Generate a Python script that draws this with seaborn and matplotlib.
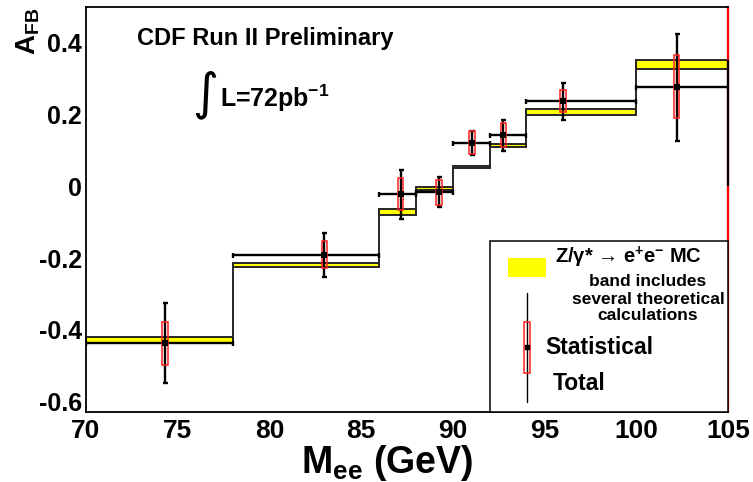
import numpy as np
import pandas as pd
import matplotlib
matplotlib.use("Agg")
import matplotlib.pyplot as plt
from matplotlib.patches import Rectangle
import seaborn as sns

# ---- data ----
edges = [70, 78, 86, 88, 90, 92, 94, 100, 105]
mee = [74.3, 83.0, 87.15, 89.25, 91.05, 92.75, 96.0, 102.2]
afb = [-0.437, -0.191, -0.022, -0.016, 0.122, 0.144, 0.238, 0.277]
tot_hi = [-0.325, -0.130, 0.047, 0.027, 0.155, 0.186, 0.288, 0.426]
tot_lo = [-0.549, -0.253, -0.090, -0.058, 0.088, 0.099, 0.186, 0.127]
stat_hi = [-0.377, -0.153, 0.023, 0.018, 0.153, 0.176, 0.268, 0.365]
stat_lo = [-0.497, -0.228, -0.067, -0.053, 0.090, 0.111, 0.206, 0.191]
mc_hi = [-0.421, -0.213, -0.064, -0.001, 0.058, 0.117, 0.216, 0.351]
mc_lo = [-0.437, -0.226, -0.080, -0.010, 0.050, 0.110, 0.199, 0.327]
xticks = [70, 75, 80, 85, 90, 95, 100, 105]
yticks = [-0.6, -0.4, -0.2, 0, 0.2, 0.4]
ytick_labels = ["-0.6", "-0.4", "-0.2", "0", "0.2", "0.4"]

sns.set_theme(style="white")
plt.rcParams["font.family"] = ["Liberation Sans", "DejaVu Sans"]
plt.rcParams["font.weight"] = "bold"
plt.rcParams["text.color"] = "black"
plt.rcParams["axes.labelcolor"] = "black"
plt.rcParams["xtick.color"] = "black"
plt.rcParams["ytick.color"] = "black"
plt.rcParams["mathtext.fontset"] = "custom"
plt.rcParams["mathtext.rm"] = "Liberation Sans:bold"
plt.rcParams["mathtext.it"] = "Liberation Sans:bold"
plt.rcParams["mathtext.bf"] = "Liberation Sans:bold"

W, H = 753, 482
fig = plt.figure(figsize=(W / 100, H / 100), dpi=100)
fig.patch.set_facecolor("white")
L, R, T, B = 86, 728, 7, 411.7
ax = fig.add_axes([L / W, 1 - B / H, (R - L) / W, (B - T) / H])
ax.set_facecolor("white")

df = pd.DataFrame({"mee": mee, "afb": afb})
e = np.array(edges, float)
mee_a = np.array(mee)
afb_a = np.array(afb)

# MC band
ax.bar(e[:-1], np.array(mc_hi) - np.array(mc_lo), width=np.diff(e), bottom=mc_lo,
       align="edge", color="#ffff00", edgecolor="#262626", linewidth=1.4, zorder=2)
# step connectors
for i in range(1, len(e) - 1):
    lo = min(mc_lo[i - 1], mc_lo[i])
    hi = max(mc_hi[i - 1], mc_hi[i])
    ax.vlines(e[i], lo, hi, color="#262626", linewidth=1.4, zorder=2)
ax.vlines(e[-1], 0, mc_hi[-1], color="black", linewidth=1.6, zorder=6, clip_on=False)

# data with total errors
ax.errorbar(mee_a, afb_a,
            xerr=[mee_a - e[:-1], e[1:] - mee_a],
            yerr=[afb_a - np.array(tot_lo), np.array(tot_hi) - afb_a],
            fmt="none", ecolor="black", elinewidth=1.7, capsize=1.8, capthick=1.7, zorder=3)
# statistical boxes
ax.bar(mee_a, np.array(stat_hi) - np.array(stat_lo), width=0.3, bottom=stat_lo,
       align="center", fill=False, edgecolor="#ff2020", linewidth=1.1, zorder=4)
sns.scatterplot(data=df, x="mee", y="afb", marker="s", s=16, color="black",
                edgecolor="black", linewidth=0, ax=ax, zorder=5, legend=False)

ax.set_xlim(70, 105)
ax.set_ylim(-0.628, 0.5)
ax.set_xticks(xticks)
ax.set_xticklabels([str(v) for v in xticks], fontsize=19, fontweight="bold")
ax.set_yticks(yticks)
ax.set_yticklabels(ytick_labels, fontsize=18, fontweight="bold")
ax.set_xticks(np.arange(70, 106, 1), minor=True)
ax.set_yticks(np.arange(-0.6, 0.5, 0.05), minor=True)
ax.tick_params(axis="x", which="major", direction="in", length=9, width=1, pad=5.5, colors="black")
ax.tick_params(axis="x", which="minor", direction="in", length=4.3, width=1, colors="black")
ax.tick_params(axis="y", which="major", direction="in", length=13, width=1, pad=3, colors="black")
ax.tick_params(axis="y", which="minor", direction="in", length=6.5, width=1, colors="black")
ax.set_xlabel("")
ax.set_ylabel("")
for s in ["left", "bottom", "top"]:
    ax.spines[s].set_color("black")
    ax.spines[s].set_linewidth(1.3)
ax.spines["right"].set_color("red")
ax.spines["right"].set_linewidth(1.6)

def axf(px, py):
    return ((px - L) / (R - L), (B - py) / (B - T))

# legend box
x0, y0 = axf(490, 411.7)
x1, y1 = axf(728, 241)
ax.add_patch(Rectangle((x0, y0), x1 - x0, y1 - y0, transform=ax.transAxes,
                       facecolor="white", edgecolor="black", linewidth=1.1, zorder=10, clip_on=False))
a, b = axf(507.7, 276.7)
c, d = axf(545.7, 257.7)
ax.add_patch(Rectangle((a, b), c - a, d - b, transform=ax.transAxes,
                       facecolor="#ffff00", edgecolor="none", zorder=11))
ax.text(*axf(555, 257), "Z/\u03b3* \u2192 e$^{+}$e$^{-}$ MC", transform=ax.transAxes,
        fontsize=14.5, fontweight="bold", ha="left", va="center", zorder=12)
for txt, py in [("band includes", 281.7), ("several theoretical", 299), ("calculations", 316)]:
    ax.text(*axf(648, py), txt, transform=ax.transAxes, fontsize=12.5, fontweight="bold",
            ha="center", va="center", zorder=12)
lx, ly0 = axf(526.7, 401.7)
_, ly1 = axf(526.7, 293.3)
ax.plot([lx, lx], [ly0, ly1], transform=ax.transAxes, color="black", linewidth=1.0, zorder=11)
a, b = axf(524, 372.7)
c, d = axf(529.7, 321.7)
ax.add_patch(Rectangle((a, b), c - a, d - b, transform=ax.transAxes,
                       facecolor="none", edgecolor="#ff2020", linewidth=1.1, zorder=12))
ax.plot([lx], [axf(526.7, 347.3)[1]], transform=ax.transAxes, marker="s", markersize=3.5,
        color="black", zorder=13)
ax.text(*axf(545, 347), "Statistical", transform=ax.transAxes, fontsize=16.5, fontweight="bold",
        ha="left", va="center", zorder=12)
ax.text(*axf(552.7, 384), "Total", transform=ax.transAxes, fontsize=16.5, fontweight="bold",
        ha="left", va="center", zorder=12)

# annotations
fig.text(137 / W, 1 - 39 / H, "CDF Run II Preliminary", fontsize=17, fontweight="bold",
         ha="left", va="center")
fig.text(205 / W, 1 - 95 / H, "\u222b", fontsize=36, fontweight="normal",
         family=["DejaVu Sans"], ha="center", va="center")
fig.text(220 / W, 1 - 98 / H, r"L=72pb$^{-1}$", fontsize=18, fontweight="bold",
         ha="left", va="center")

fig.text(28 / W, 1 - 8 / H, r"A$_{\mathrm{FB}}$", fontsize=20, fontweight="bold",
         rotation=90, ha="center", va="top")
fig.text(387 / W, 1 - 473 / H, r"M$_{\mathrm{ee}}$ (GeV)", fontsize=27, fontweight="bold",
         ha="center", va="baseline")

fig.savefig("out.png", dpi=100, facecolor="white")
